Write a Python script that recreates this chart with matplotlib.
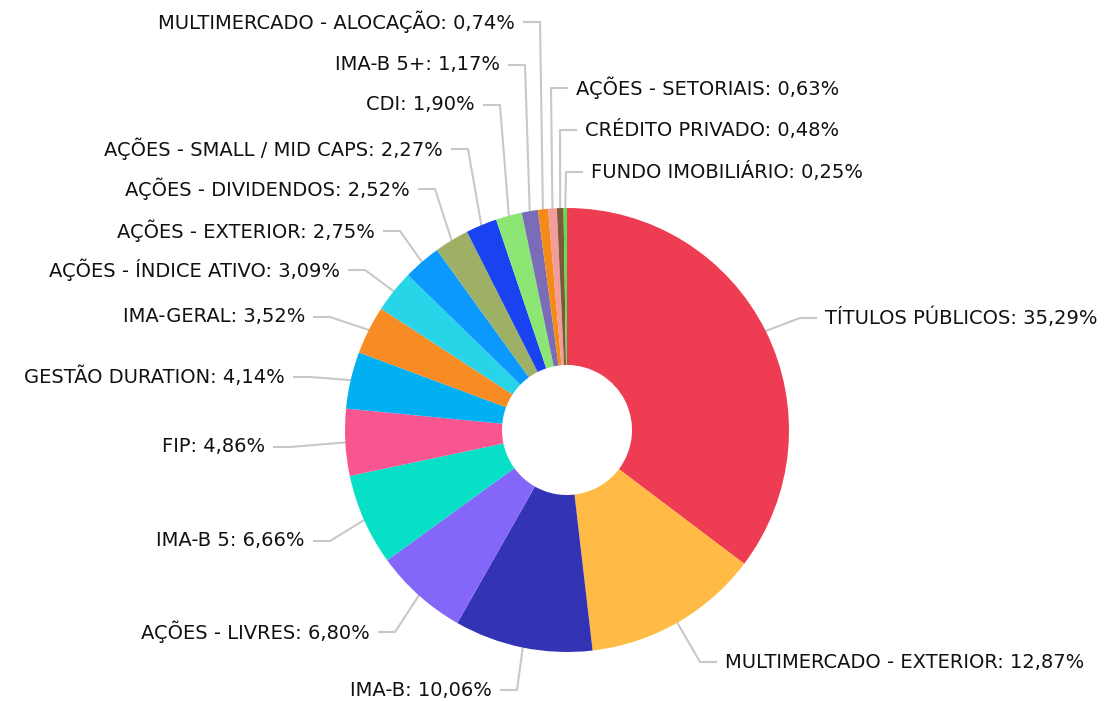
import matplotlib
matplotlib.use("Agg")
import matplotlib.pyplot as plt
from matplotlib import font_manager
import numpy as np

# dados
labels = ["TÍTULOS PÚBLICOS", "MULTIMERCADO - EXTERIOR", "IMA-B", "AÇÕES - LIVRES",
          "IMA-B 5", "FIP", "GESTÃO DURATION", "IMA-GERAL", "AÇÕES - ÍNDICE ATIVO",
          "AÇÕES - EXTERIOR", "AÇÕES - DIVIDENDOS", "AÇÕES - SMALL / MID CAPS", "CDI",
          "IMA-B 5+", "MULTIMERCADO - ALOCAÇÃO", "AÇÕES - SETORIAIS", "CRÉDITO PRIVADO",
          "FUNDO IMOBILIÁRIO"]
values = [35.29, 12.87, 10.06, 6.80, 6.66, 4.86, 4.14, 3.52, 3.09,
          2.75, 2.52, 2.27, 1.90, 1.17, 0.74, 0.63, 0.48, 0.25]
colors = ["#ee3d53", "#ffbb46", "#3333b5", "#8467f9", "#07e0c6", "#f95590",
          "#00b0f0", "#f78b24", "#28d5e8", "#0c99fe", "#9eaf66", "#1a42f0",
          "#8be673", "#7a6cb6", "#f48a17", "#f49c9a", "#7c5a3c", "#5ae14b"]

# layout dos rotulos (pixels): elbow x, y do rotulo, lado
label_pos = [(800, 318, 'r'), (700, 662, 'r'), (517, 690, 'l'), (395, 632, 'l'),
             (330, 541, 'l'), (290, 447, 'l'), (310, 377, 'l'), (330, 317, 'l'),
             (365, 270, 'l'), (400, 231, 'l'), (435, 189, 'l'), (468, 149, 'l'),
             (500, 105, 'l'), (525, 65, 'l'), (540, 22, 'l'), (551, 88, 'r'),
             (560, 130, 'r'), (566, 172, 'r')]

# fonte condensada se existir
names = set(f.name for f in font_manager.fontManager.ttflist)
if 'DejaVu Sans Condensed' in names:
    fam, fsize = 'DejaVu Sans Condensed', 15
elif 'Liberation Sans Narrow' in names:
    fam, fsize = 'Liberation Sans Narrow', 16
else:
    fam, fsize = 'DejaVu Sans', 14

W, H = 1110, 701
fig = plt.figure(figsize=(W / 100, H / 100), dpi=100)
ax = fig.add_axes([0, 0, 1, 1])

cx, cy, R = 567, H - 430, 222
wedges, _ = ax.pie(values, colors=colors, startangle=90, counterclock=False,
                   center=(cx, cy), radius=R, frame=True,
                   wedgeprops=dict(width=R - 65, linewidth=0))
ax.set_xlim(0, W)
ax.set_ylim(0, H)
ax.set_aspect('equal')
ax.axis('off')

for w, lab, v, (ex, ly, side) in zip(wedges, labels, values, label_pos):
    ang = np.deg2rad((w.theta1 + w.theta2) / 2)
    px, py = cx + R * np.cos(ang), cy + R * np.sin(ang)
    y = H - ly
    txt = f"{lab}: {v:.2f}%".replace('.', ',')
    if side == 'r':
        x2 = ex + 16
        ax.plot([px, ex, x2], [py, y, y], color='#c8c8c8', lw=1.5, zorder=0)
        ax.text(x2 + 9, y, txt, ha='left', va='center', family=fam,
                fontsize=fsize, color='#111111')
    else:
        x2 = ex - 16
        ax.plot([px, ex, x2], [py, y, y], color='#c8c8c8', lw=1.5, zorder=0)
        ax.text(x2 - 9, y, txt, ha='right', va='center', family=fam,
                fontsize=fsize, color='#111111')

fig.savefig("out.png", dpi=100)
